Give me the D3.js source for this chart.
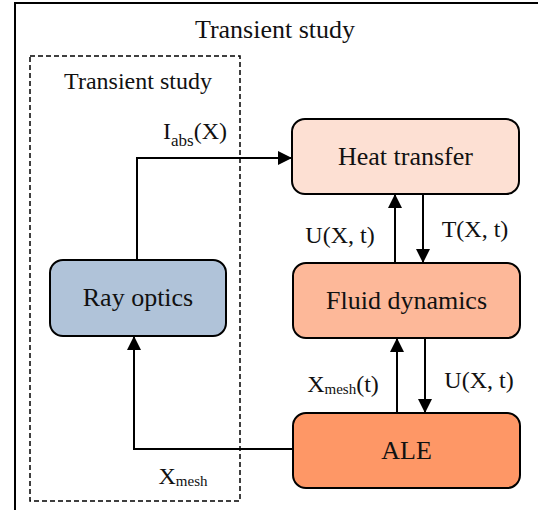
<!DOCTYPE html>
<html>
  <head>
    <title>Transient study</title>
    <style>
      body { margin: 0; background: #fff; }
      svg { background-color: #fff; }
      text { font-family: "Liberation Serif", "Times New Roman", serif; fill: #111; }
    </style>
  </head>
  <body>
    <svg id="canvas" width="538" height="510"></svg>
    <script src="https://d3js.org/d3.v7.min.js"></script>
    <script>
      // Nodes and the coupled quantities between them
      var nodeIds = ["ray", "heat", "fluid", "ale"];
      var nodeNames = ["Ray optics", "Heat transfer", "Fluid dynamics", "ALE"];
      var nodeColors = ["#b0c3d9", "#fde0d3", "#fdb899", "#fe9766"];

      var linkFrom = ["ray", "fluid", "heat", "ale", "fluid", "ale"];
      var linkTo = ["heat", "heat", "fluid", "fluid", "ale", "ray"];
      var linkMain = ["I", "U(X, t)", "T(X, t)", "X", "U(X, t)", "X"];
      var linkSub = ["abs", "", "", "mesh", "", "mesh"];
      var linkTail = ["(X)", "", "", "(t)", "", ""];

      var outerTitle = "Transient study";
      var innerTitle = "Transient study";

      // Layout (separate from data)
      var layout = {
        ray: { x: 50, y: 260, w: 176, h: 76 },
        heat: { x: 292, y: 119, w: 227, h: 75 },
        fluid: { x: 293, y: 263, w: 227, h: 75 },
        ale: { x: 293, y: 413, w: 227, h: 75 }
      };

      var svg = d3.select("#canvas");

      svg.append("defs").append("marker")
        .attr("id", "arrow")
        .attr("viewBox", "0 0 10 10")
        .attr("refX", 10).attr("refY", 5)
        .attr("markerUnits", "userSpaceOnUse")
        .attr("markerWidth", 14).attr("markerHeight", 14)
        .attr("orient", "auto")
        .append("path").attr("d", "M0,0L10,5L0,10Z").attr("fill", "#000");

      // outer frame (clipped at right/bottom edges)
      svg.append("path")
        .attr("d", "M15,510V3H538")
        .attr("fill", "none").attr("stroke", "#000").attr("stroke-width", 2);

      svg.append("text").attr("x", 275).attr("y", 38)
        .attr("text-anchor", "middle").attr("font-size", 26).text(outerTitle);

      svg.append("rect")
        .attr("x", 30).attr("y", 56).attr("width", 210).attr("height", 445)
        .attr("fill", "none").attr("stroke", "#000")
        .attr("stroke-width", 1.5).attr("stroke-dasharray", "5,3");

      svg.append("text").attr("x", 138).attr("y", 89)
        .attr("text-anchor", "middle").attr("font-size", 24).text(innerTitle);

      // links
      var linkGeom = {
        "ray-heat": { d: "M137,260V158H292", lx: 195, ly: 139 },
        "fluid-heat": { d: "M395,263V194", lx: 340, ly: 243 },
        "heat-fluid": { d: "M423,194V263", lx: 475, ly: 237 },
        "ale-fluid": { d: "M397,413V338", lx: 343, ly: 392 },
        "fluid-ale": { d: "M425,338V413", lx: 479, ly: 388 },
        "ale-ray": { d: "M293,449H134V336", lx: 183, ly: 484 }
      };

      linkFrom.forEach(function (f, i) {
        var g = linkGeom[f + "-" + linkTo[i]];
        svg.append("path").attr("d", g.d)
          .attr("fill", "none").attr("stroke", "#000").attr("stroke-width", 2)
          .attr("marker-end", "url(#arrow)");
        var t = svg.append("text").attr("x", g.lx).attr("y", g.ly)
          .attr("text-anchor", "middle").attr("font-size", 24);
        t.append("tspan").text(linkMain[i]);
        if (linkSub[i]) {
          var isAbs = linkSub[i] === "abs";
          var lower = isAbs ? 7 : 2;
          t.append("tspan").attr("font-size", isAbs ? 17 : 15).attr("dy", lower).text(linkSub[i]);
          if (linkTail[i]) {
            t.append("tspan").attr("dy", -lower).text(linkTail[i]);
          }
        }
      });

      // nodes
      nodeIds.forEach(function (id, i) {
        var b = layout[id];
        svg.append("rect")
          .attr("x", b.x).attr("y", b.y).attr("width", b.w).attr("height", b.h)
          .attr("rx", 13).attr("ry", 13)
          .attr("fill", nodeColors[i]).attr("stroke", "#000").attr("stroke-width", 2);
        svg.append("text")
          .attr("x", b.x + b.w / 2).attr("y", b.y + b.h / 2 + 8)
          .attr("text-anchor", "middle").attr("font-size", 26)
          .text(nodeNames[i]);
      });
    </script>
  </body>
</html>
